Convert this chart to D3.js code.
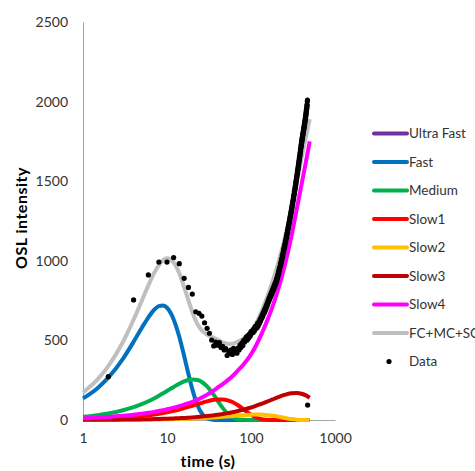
<!DOCTYPE html>
<html>
<head>
<meta charset="utf-8">
<script src="https://cdn.jsdelivr.net/npm/d3@7"></script>
<style>
  html, body { margin: 0; padding: 0; background: #fff; }
  svg { display: block; font-family: Lato, "Liberation Sans", sans-serif; }
</style>
</head>
<body>
<svg id="chart" width="475" height="471"></svg>
<script>
// Time grid (s) on which the fitted components are tabulated
const timeGrid = [1, 1.5, 2, 3, 4, 5, 6, 7, 8, 9, 10, 12, 14, 16, 18, 20, 23, 26, 30, 35, 40, 46, 53, 60, 70, 80, 95, 110, 130, 150, 180, 210, 250, 300, 350, 400, 450, 500];

// Fitted LM-OSL components
const fast   = [135.5, 201.7, 265.8, 385.7, 491, 578, 645, 691, 715, 719, 705, 632, 523, 402, 289, 194, 95, 41, 10.7, 1.5, 0.1, 0, 0, 0, 0, 0, 0, 0, 0, 0, 0, 0, 0, 0, 0, 0, 0, 0];
const medium = [20.5, 30.7, 40.8, 60.9, 80.5, 99.5, 117.9, 135.4, 152, 167.6, 182.1, 207.3, 227.4, 242, 251, 254.9, 251.4, 238.6, 210.9, 167.1, 122.2, 76.1, 38.4, 17, 4.2, 0.8, 0, 0, 0, 0, 0, 0, 0, 0, 0, 0, 0, 0];
const slow1  = [5, 7.5, 10, 14.9, 19.9, 24.8, 29.6, 34.4, 39.2, 43.9, 48.5, 57.5, 66.2, 74.4, 82.2, 89.5, 99.4, 108, 117.2, 125.3, 129.4, 129.4, 123.6, 113, 92.7, 70.7, 41.2, 20.8, 6.7, 1.7, 0.1, 0, 0, 0, 0, 0, 0, 0];
const slow2  = [0.5, 0.7, 0.9, 1.4, 1.9, 2.3, 2.8, 3.3, 3.7, 4.2, 4.7, 5.6, 6.5, 7.4, 8.3, 9.2, 10.5, 11.9, 13.6, 15.7, 17.7, 20, 22.5, 24.7, 27.6, 29.9, 32.4, 33.8, 33.8, 32.1, 27.3, 21.2, 13.3, 6.2, 2.3, 0.7, 0.2, 0];
const slow3  = [0.8, 1.2, 1.7, 2.5, 3.3, 4.1, 5, 5.8, 6.6, 7.4, 8.2, 9.9, 11.5, 13.2, 14.8, 16.5, 18.9, 21.4, 24.6, 28.7, 32.7, 37.6, 43.2, 48.7, 56.5, 64.1, 75.3, 86.1, 99.6, 112.2, 129, 143.1, 157.3, 167.6, 169.8, 165.1, 154.5, 139.8];
const slow4  = [10.7, 14.9, 18.8, 26.1, 32.8, 39.3, 45.3, 51.1, 56.8, 62.1, 67.5, 77.4, 86.8, 96, 105.3, 114.4, 128.1, 141.7, 159, 180.6, 202.8, 225.4, 250.2, 274.8, 311.5, 344, 394.3, 448.8, 526.5, 603, 711, 819, 962.5, 1143, 1323, 1480, 1620, 1750];
// Sum of the components (FC+MC+SC)
const total  = [173, 256.7, 338, 491.5, 629.4, 748, 845.6, 921, 973.3, 1004.2, 1016, 989.7, 921.4, 835, 750.6, 678.5, 603.3, 562.6, 536, 518.9, 504.9, 488.5, 477.9, 478.2, 492.5, 509.5, 543.2, 589.5, 666.6, 749, 867.4, 983.3, 1133.1, 1316.8, 1495.1, 1645.8, 1774.7, 1889.8];

// Measured OSL signal, one value per 2 s channel
const channelWidth = 2;
const dataValues = [
  272, 754, 911, 992, 992, 1020, 982, 890, 833, 791,
  680, 670, 653, 611, 576, 545, 502, 465, 490, 470,
  486, 455, 462, 440, 448, 405, 433, 418, 440, 412,
  450, 425, 438, 420, 452, 440, 470, 455, 484, 468,
  500, 490, 510, 523, 502, 530, 515, 540, 528, 555,
  545, 562, 550, 572, 560, 586, 575, 592, 580, 607,
  592, 615, 606, 630, 622, 645, 638, 660, 650, 675,
  668, 690, 680, 705, 694, 720, 710, 735, 726, 750,
  742, 765, 755, 778, 770, 792, 782, 805, 795, 818,
  808, 830, 820, 842, 832, 855, 845, 866, 858, 880,
  872, 895, 888, 912, 905, 930, 922, 948, 940, 962,
  958, 982, 972, 998, 990, 1015, 1008, 1035, 1025, 1050,
  1045, 1068, 1060, 1085, 1078, 1102, 1095, 1120, 1112, 1138,
  1130, 1155, 1148, 1172, 1165, 1190, 1182, 1208, 1200, 1225,
  1218, 1242, 1235, 1260, 1252, 1278, 1270, 1295, 1288, 1312,
  1305, 1330, 1322, 1348, 1340, 1365, 1358, 1382, 1375, 1400,
  1392, 1418, 1410, 1435, 1428, 1452, 1445, 1470, 1462, 1488,
  1480, 1505, 1498, 1522, 1515, 1540, 1532, 1558, 1550, 1575,
  1568, 1592, 1585, 1610, 1602, 1628, 1620, 1645, 1638, 1662,
  1655, 1680, 1672, 1698, 1690, 1715, 1708, 1732, 1725, 1750,
  1742, 1765, 1755, 1778, 1770, 1792, 1785, 1805, 1798, 1815,
  1810, 1832, 1825, 1845, 1838, 1858, 1852, 1872, 1865, 1885,
  1880, 1900, 1895, 1915, 1910, 1932, 1925, 1948, 1942, 1962,
  1958, 1980, 1975, 2000, 2010, 94
];

const xTicks = [1, 10, 100, 1000];
const yTicks = [0, 500, 1000, 1500, 2000, 2500];

const series = [
  { name: "Ultra Fast", color: "#7030A0", values: null },
  { name: "Fast", color: "#0070C0", values: fast },
  { name: "Medium", color: "#00B050", values: medium },
  { name: "Slow1", color: "#FF0000", values: slow1 },
  { name: "Slow2", color: "#FFC000", values: slow2 },
  { name: "Slow3", color: "#C00000", values: slow3 },
  { name: "Slow4", color: "#FF00FF", values: slow4 },
  { name: "FC+MC+SC", color: "#BFBFBF", values: total }
];

const svg = d3.select("#chart");
const x = d3.scaleLog().domain([1, 1000]).range([83, 335]);
const y = d3.scaleLinear().domain([0, 2500]).range([420, 22]);

// Axes
const yAxis = svg.append("g").attr("transform", "translate(83,0)")
  .call(d3.axisLeft(y).tickValues(yTicks).tickSize(0).tickSizeOuter(0).tickPadding(15).tickFormat(d3.format("d")));
const xAxis = svg.append("g").attr("transform", "translate(0,420)")
  .call(d3.axisBottom(x).tickValues(xTicks).tickSize(0).tickSizeOuter(0).tickPadding(13).tickFormat(d3.format("d")));
[yAxis, xAxis].forEach(g => {
  g.select(".domain").attr("stroke", "#A6A6A6").attr("stroke-width", 1);
  g.selectAll("text").attr("fill", "#333").attr("font-size", 14).attr("font-family", "Lato, sans-serif");
});

// Component curves
const line = d3.line()
  .x(d => x(d.t))
  .y(d => y(d.v))
  .curve(d3.curveMonotoneX);

series.filter(s => s.values).forEach(s => {
  svg.append("path")
    .datum(timeGrid.map((t, i) => ({ t, v: s.values[i] })))
    .attr("fill", "none")
    .attr("stroke", s.color)
    .attr("stroke-width", 4)
    .attr("stroke-linejoin", "round")
    .attr("d", line);
});

// Data points
svg.append("g").selectAll("circle")
  .data(dataValues.map((v, i) => ({ t: (i + 1) * channelWidth, v })))
  .join("circle")
  .attr("cx", d => x(d.t))
  .attr("cy", d => y(d.v))
  .attr("r", 2.6)
  .attr("fill", "#000");

// Axis titles
svg.append("text")
  .attr("x", 208).attr("y", 467)
  .attr("text-anchor", "middle")
  .attr("font-weight", "bold").attr("font-size", 16).attr("letter-spacing", 0.5)
  .attr("fill", "#000")
  .text("time (s)");
svg.append("text")
  .attr("transform", "translate(27,218) rotate(-90)")
  .attr("text-anchor", "middle")
  .attr("font-weight", "bold").attr("font-size", 16).attr("letter-spacing", 0.5)
  .attr("fill", "#000")
  .text("OSL intensity");

// Legend
const legend = svg.append("g");
const rowY = i => 133.5 + i * 28.5;
series.forEach((s, i) => {
  legend.append("line")
    .attr("x1", 374).attr("x2", 407)
    .attr("y1", rowY(i)).attr("y2", rowY(i))
    .attr("stroke", s.color).attr("stroke-width", 4).attr("stroke-linecap", "round");
  legend.append("text")
    .attr("x", 409).attr("y", rowY(i)).attr("dy", "0.35em")
    .attr("font-size", 13.5).attr("fill", "#333")
    .text(s.name);
});
legend.append("circle")
  .attr("cx", 389).attr("cy", rowY(8)).attr("r", 2.6).attr("fill", "#000");
legend.append("text")
  .attr("x", 409).attr("y", rowY(8)).attr("dy", "0.35em")
  .attr("font-size", 13.5).attr("fill", "#333")
  .text("Data");
</script>
</body>
</html>
